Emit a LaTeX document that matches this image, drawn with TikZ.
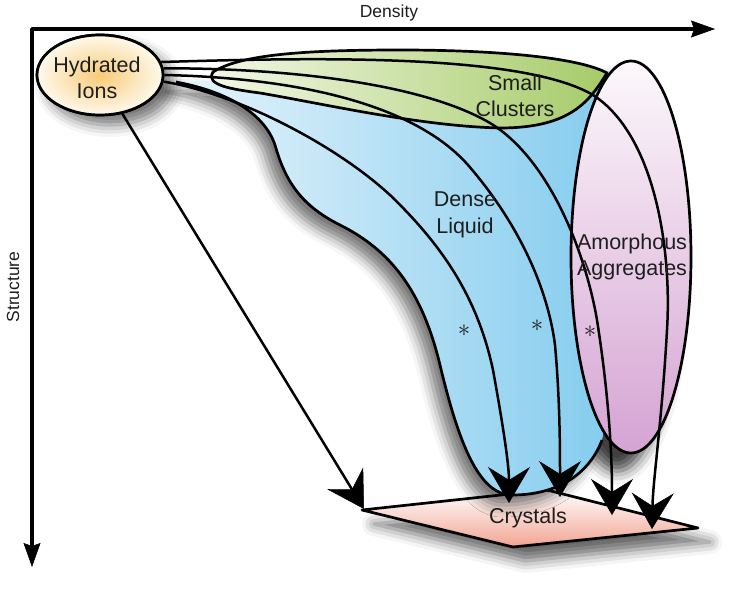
\documentclass[tikz,border=0pt]{standalone}
\usepackage{fontspec}
\setmainfont{Liberation Sans}
\usetikzlibrary{arrows.meta,shapes.geometric,shadows.blur}
\definecolor{txt}{HTML}{1E1E1E}
\definecolor{ionIn}{HTML}{F7CB78}
\definecolor{ionOut}{HTML}{FFF9EC}
\definecolor{grnL}{HTML}{F3F8E8}
\definecolor{grnR}{HTML}{A6CB69}
\definecolor{bluL}{HTML}{E6F4FC}
\definecolor{bluR}{HTML}{84CCEE}
\definecolor{ampT}{HTML}{FCF8FB}
\definecolor{ampB}{HTML}{D5A3D3}
\definecolor{cryB}{HTML}{F2A493}
\begin{document}
\begin{tikzpicture}[x=1pt,y=-1pt,line join=round,
  outl/.style={draw=black,line width=2.7pt},
  bigarrow/.style={line width=2.5pt,-{Stealth[length=36pt,width=42pt,inset=13pt,fill=black,line join=miter,line width=0.5pt]}},
  axisline/.style={line width=3.5pt,{Stealth[length=24pt,width=17pt,inset=3pt,fill=black,line width=0.5pt]}-{Stealth[length=24pt,width=17pt,inset=3pt,fill=black,line width=0.5pt]}},
  lbl/.style={font=\fontsize{21.5}{26.5}\selectfont,align=center,text=txt,inner sep=0pt},
  axlbl/.style={font=\fontsize{17.5}{20}\selectfont,text=txt,inner sep=0pt},
  star/.style={font=\fontsize{26}{26}\selectfont,text=txt,inner sep=0pt}
]
\useasboundingbox (0,0) rectangle (750,602);

% axes
\coordinate (O) at (32,29);
\coordinate (xend) at (715,29);
\coordinate (yend) at (32,567);
\draw[axisline] (xend) -- (O) -- (yend);
\node[axlbl] (dens) at (389,13) {Density};
\node[axlbl,rotate=90] (struc) at (13,287) {Structure};

% crystals
\coordinate (c1) at (362,510);
\coordinate (c2) at (547,490);
\coordinate (c3) at (698,528);
\coordinate (c4) at (513,547);
\path[blur shadow={shadow xshift=12pt,shadow yshift=-14pt,shadow blur radius=12pt,shadow opacity=60},top color=white,bottom color=cryB] (c1) -- (c2) -- (c3) -- (c4) -- cycle;
\draw[outl] (c1) -- (c2) -- (c3) -- (c4) -- cycle;
\node[lbl] (cry) at (528,518) {Crystals};

% shadow of the amorphous ellipse (kept under the dense liquid)
\path[blur shadow={shadow xshift=-14pt,shadow yshift=-18pt,shadow blur radius=13pt,shadow opacity=75}] (631,257) ellipse [x radius=60, y radius=196];

% dense liquid
\path[blur shadow={shadow xshift=-10pt,shadow yshift=-10pt,shadow blur radius=12pt,shadow opacity=55},left color=bluL,right color=bluR]
  (176,82) .. controls (230,92) and (265,115) .. (275,145)
  .. controls (285,180) and (300,205) .. (340,225)
  .. controls (390,250) and (422,290) .. (440,365)
  .. controls (458,440) and (478,495) .. (512,495)
  .. controls (560,495) and (590,472) .. (602,440)
  .. controls (612,400) and (608,200) .. (600,110)
  -- (606,76) -- (560,100) .. controls (450,100) and (260,75) .. cycle;
\draw[outl]
  (176,82) .. controls (230,92) and (265,115) .. (275,145)
  .. controls (285,180) and (300,205) .. (340,225)
  .. controls (390,250) and (422,290) .. (440,365)
  .. controls (458,440) and (478,495) .. (512,495)
  .. controls (560,495) and (590,472) .. (602,440);

% small clusters
\draw[outl,left color=grnL,right color=grnR]
  (213,72) .. controls (240,55) and (300,50) .. (400,50)
  .. controls (500,50) and (580,58) .. (607,73)
  .. controls (590,100) and (572,128) .. (500,128)
  .. controls (420,126) and (330,105) .. (260,93)
  .. controls (230,89) and (205,85) .. cycle;

% amorphous aggregates
\node[ellipse,outl,top color=ampT,bottom color=ampB,minimum width=120pt,minimum height=392pt,inner sep=0pt] (amo) at (631,257) {};

% hydrated ions
\node[ellipse,outl,blur shadow={shadow xshift=10pt,shadow yshift=-10pt,shadow blur radius=12pt,shadow opacity=55},inner color=ionIn,outer color=ionOut,minimum width=126pt,minimum height=80pt,inner sep=0pt] (ions) at (100,75) {};

% arrow tips
\coordinate (t0) at (364,509);
\coordinate (t1) at (509,503);
\coordinate (t2) at (560,497);
\coordinate (t3) at (612,515);
\coordinate (t4) at (652,529);

\draw[bigarrow] (ions.-60) -- (t0);
\draw[bigarrow] (ions.-6) .. controls (230,92) and (330,140) .. (390,195)
  .. controls (445,248) and (478,300) .. (493,370)
  .. controls (503,425) and (509,465) .. (t1);
\draw[bigarrow] (ions.0) .. controls (300,78) and (415,105) .. (468,165)
  .. controls (520,225) and (548,290) .. (555,345)
  .. controls (560,400) and (560,450) .. (t2);
\draw[bigarrow] (ions.6) .. controls (280,68) and (420,82) .. (490,123)
  .. controls (548,158) and (585,250) .. (597,320)
  .. controls (608,390) and (612,450) .. (t3);
\draw[bigarrow] (ions.12) .. controls (300,58) and (520,52) .. (593,95)
  .. controls (655,135) and (672,250) .. (667,330)
  .. controls (662,420) and (653,480) .. (t4);

% redraw ions on top
\node[ellipse,outl,inner color=ionIn,outer color=ionOut,minimum width=126pt,minimum height=80pt,inner sep=0pt] (ions2) at (100,75) {};

% labels
\node[lbl] (ionlbl) at (97,78) {Hydrated\\Ions};
\node[lbl] (sclbl) at (515,96) {Small\\Clusters};
\node[lbl] (dllbl) at (465,215) {Dense\\Liquid};
\node[lbl] (amlbl) at (632,257) {Amorphous\\Aggregates};
\node[star] (s1) at (464,331) {$\ast$};
\node[star] (s2) at (537,326) {$\ast$};
\node[star] (s3) at (590,332) {$\ast$};
\end{tikzpicture}
\end{document}
